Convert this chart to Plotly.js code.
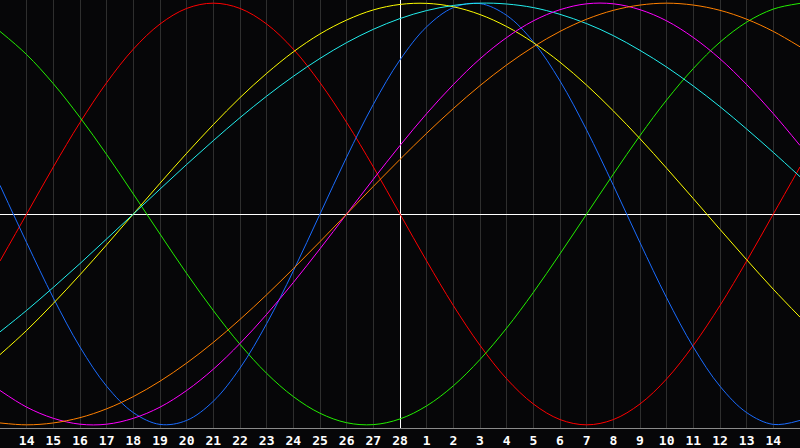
<!DOCTYPE html>
<html>
<head>
<meta charset="utf-8">
<script src="https://cdn.plot.ly/plotly-3.0.1.min.js"></script>
<style>
  html, body { margin: 0; padding: 0; background: #060608; }
  #graph { width: 800px; height: 448px; }
</style>
</head>
<body>
<div id="graph"></div>
<script>
// days relative to today (0 = 28th)
const days = [-15, -14, -13, -12, -11, -10, -9, -8, -7, -6, -5, -4, -3, -2, -1,
    0, 1, 2, 3, 4, 5, 6, 7, 8, 9, 10, 11, 12, 13, 14, 15];

const tickDays = [-14, -13, -12, -11, -10, -9, -8, -7, -6, -5, -4, -3, -2, -1,
    0, 1, 2, 3, 4, 5, 6, 7, 8, 9, 10, 11, 12, 13, 14];
const tickLabels = ['14', '15', '16', '17', '18', '19', '20', '21', '22', '23', '24', '25', '26', '27',
    '28', '1', '2', '3', '4', '5', '6', '7', '8', '9', '10', '11', '12', '13', '14'];

// curve values in percent, read at each day
const physical = [13.6, -13.6, -39.8, -63.1, -81.7, -94.2, -99.8, -97.9, -88.8, -73.1, -52.0, -27.0, 0, 27.0, 52.0,
    73.1, 88.8, 97.9, 99.8, 94.2, 81.7, 63.1, 39.8, 13.6, -13.6, -39.8, -63.1, -81.7, -94.2, -99.8, -97.9];
const emotional = [-22.3, 0, 22.3, 43.4, 62.3, 78.2, 90.1, 97.5, 100, 97.5, 90.1, 78.2, 62.3, 43.4, 22.3,
    0, -22.3, -43.4, -62.3, -78.2, -90.1, -97.5, -100, -97.5, -90.1, -78.2, -62.3, -43.4, -22.3, 0, 22.3];
const intellectual = [86.6, 75.6, 61.8, 45.8, 28.2, 9.5, -9.5, -28.2, -45.8, -61.8, -75.6, -86.6, -94.5, -99.0, -99.9,
    -97.2, -91.0, -81.5, -69.0, -54.1, -37.2, -18.9, 0, 18.9, 37.2, 54.1, 69.0, 81.5, 91.0, 97.2, 99.9];
const intuitive = [-83.7, -91.6, -96.9, -99.7, -99.7, -96.9, -91.6, -83.7, -73.6, -61.4, -47.6, -32.5, -16.5, 0, 16.5,
    32.5, 47.6, 61.4, 73.6, 83.7, 91.6, 96.9, 99.7, 99.7, 96.9, 91.6, 83.7, 73.6, 61.4, 47.6, 32.5];
const aesthetic = [-66.7, -55.2, -42.4, -28.8, -14.6, 0, 14.6, 28.8, 42.4, 55.2, 66.7, 76.9, 85.4, 92.0, 96.8,
    99.4, 99.9, 98.3, 94.6, 88.9, 81.3, 72.0, 61.1, 48.9, 35.7, 21.7, 7.3, -7.3, -21.7, -35.7, -48.9];
const awareness = [-99.1, -100, -99.1, -96.6, -92.4, -86.6, -79.3, -70.7, -60.9, -50.0, -38.3, -25.9, -13.1, 0, 13.1,
    25.9, 38.3, 50.0, 60.9, 70.7, 79.3, 86.6, 92.4, 96.6, 99.1, 100, 99.1, 96.6, 92.4, 86.6, 79.3];
const spiritual = [-55.9, -45.7, -34.8, -23.5, -11.8, 0, 11.8, 23.5, 34.8, 45.7, 55.9, 65.3, 73.8, 81.3, 87.6,
    92.7, 96.5, 98.9, 100.0, 99.6, 97.9, 94.7, 90.3, 84.6, 77.6, 69.7, 60.7, 50.9, 40.3, 29.2, 17.7];

function curve(values, color){
    return {
        x: days,
        y: values,
        type: 'scatter',
        mode: 'lines',
        line: { shape: 'spline', width: 1, color: color },
        hoverinfo: 'skip'
    };
}

const traces = [
    curve(emotional, '#ff0000'),
    curve(intellectual, '#22ee00'),
    curve(physical, '#1a6cff'),
    curve(aesthetic, '#ffff00'),
    curve(spiritual, '#22eeee'),
    curve(intuitive, '#ff00ff'),
    curve(awareness, '#ff8000')
];

const layout = {
    width: 800,
    height: 448,
    margin: { l: 0, r: 0, t: 0, b: 20 },
    paper_bgcolor: '#060608',
    plot_bgcolor: '#060608',
    showlegend: false,
    xaxis: {
        range: [-15, 15],
        tickvals: tickDays,
        ticktext: tickLabels,
        ticks: '',
        showgrid: true,
        gridcolor: '#2e2e2e',
        gridwidth: 1,
        zeroline: true,
        zerolinecolor: '#ffffff',
        zerolinewidth: 1,
        showline: true,
        mirror: true,
        linecolor: '#8a8a8a',
        linewidth: 1,
        fixedrange: true,
        tickfont: { family: 'DejaVu Sans Mono', size: 13, color: '#ffffff', weight: 'bold' }
    },
    yaxis: {
        range: [-101.5, 101.5],
        showgrid: false,
        showticklabels: false,
        ticks: '',
        zeroline: true,
        zerolinecolor: '#ffffff',
        zerolinewidth: 1,
        showline: true,
        mirror: true,
        linecolor: '#8a8a8a',
        linewidth: 1,
        fixedrange: true
    }
};

Plotly.newPlot('graph', traces, layout, { displayModeBar: false, staticPlot: true });
</script>
</body>
</html>
